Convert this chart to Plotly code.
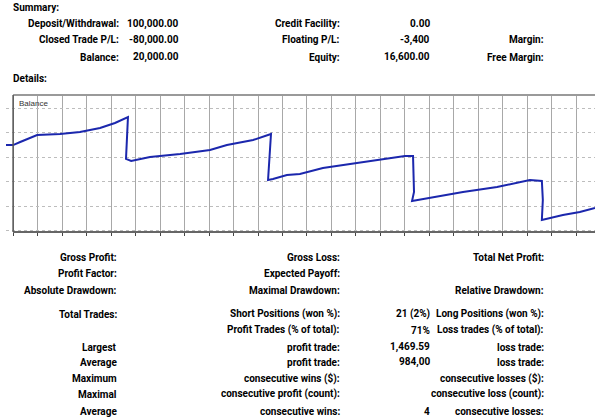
import plotly.graph_objects as go

W, H = 595, 417

# balance curve (x = grid steps, y = balance)
balance_x = [-0.29, 0, 0.29, 0.98, 1.92, 2.73, 3.55, 4.16, 4.69, 4.65, 4.61, 4.82,
             5.59, 6.82, 8.04, 8.73, 9.80, 10.53, 10.45, 10.41, 10.61, 11.18, 11.71,
             12.65, 14.04, 15.39, 16.00, 16.33, 16.37, 16.29, 17.02, 18.37, 19.76,
             20.82, 21.10, 21.59, 21.63, 21.59, 21.92, 22.45, 23.14, 23.76]
balance_y = [87200, 87200, 90300, 97400, 98500, 100500, 104600, 109700, 115800, 97400,
             73000, 70900, 75000, 78100, 82100, 87200, 92300, 98500, 71900, 51500,
             52600, 56600, 57700, 63800, 68900, 74000, 76000, 76000, 39300, 30100,
             33200, 39300, 44400, 50500, 51500, 50500, 31100, 10700, 12800, 15800,
             18900, 23000]

# summary block
summary_labels_1 = ["Deposit/Withdrawal:", "Closed Trade P/L:", "Balance:"]
summary_values_1 = ["100,000.00", "-80,000.00", "20,000.00"]
summary_labels_2 = ["Credit Facility:", "Floating P/L:", "Equity:"]
summary_values_2 = ["0.00", "-3,400", "16,600.00"]
summary_labels_3 = ["", "Margin:", "Free Margin:"]

# details block
details_labels_1 = ["Gross Profit:", "Profit Factor:", "Absolute Drawdown:", "Total Trades:", "",
                    "Largest", "Average", "Maximum", "Maximal", "Average"]
details_labels_2 = ["Gross Loss:", "Expected Payoff:", "Maximal Drawdown:",
                    "Short Positions (won %):", "Profit Trades (% of total):",
                    "profit trade:", "profit trade:", "consecutive wins ($):",
                    "consecutive profit (count):", "consecutive wins:"]
details_values_2 = ["", "", "", "21 (2%)", "71%", "1,469.59", "984,00", "", "", "4"]
details_labels_3 = ["Total Net Profit:", "", "Relative Drawdown:", "Long Positions (won %):",
                    "Loss trades (% of total):", "loss trade:", "loss trade:",
                    "consecutive losses ($):", "consecutive loss (count):", "consecutive losses:"]

FONT = "Roboto, Liberation Sans, Arial"


def px(x):
    return x / W


def py(y):
    return 1 - y / H


anns = []


def add_text(text, x, y, anchor="right", size=10, bold=True, color="#000000"):
    if not text:
        return
    anns.append(dict(text=text, x=px(x), y=py(y), xref="paper", yref="paper",
                     xanchor=anchor, yanchor="middle", showarrow=False, borderpad=0,
                     font=dict(family=FONT, size=size, color=color,
                               weight="bold" if bold else "normal")))


add_text("Summary:", 12, 8, anchor="left")
add_text("Details:", 12, 79, anchor="left")

summary_rows = [24, 40, 57]
for i, yy in enumerate(summary_rows):
    add_text(summary_labels_1[i], 120, yy)
    add_text(summary_values_1[i], 180, yy)
    add_text(summary_labels_2[i], 341, yy)
    add_text(summary_values_2[i], 431, yy)
    add_text(summary_labels_3[i], 545, yy)

details_rows = [257, 273, 290, 314, 330, 347, 362, 378, 394, 411]
for i, yy in enumerate(details_rows):
    add_text(details_labels_1[i], 118, yy)
    add_text(details_labels_2[i], 341, yy)
    add_text(details_values_2[i], 431, yy)
    add_text(details_labels_3[i], 545, yy)

# chart geometry
plot_left, plot_top, plot_bottom = 6, 95, 232
x_range = [-0.29, 23.76]
y_range = [-1530, 138270]

fig = go.Figure()
fig.add_trace(go.Scatter(x=balance_x, y=balance_y, mode="lines",
                         line=dict(color="#1b27ad", width=2), hoverinfo="skip"))

anns.append(dict(text="Balance", x=0.15, y=1, xref="x", yref="y domain",
                 xanchor="left", yanchor="top", yshift=-2, showarrow=False,
                 font=dict(family="Liberation Sans, Arial", size=8, color="#333333")))

shapes = [
    dict(type="line", xref="x", yref="y domain", x0=0, x1=x_range[1], y0=1, y1=1,
         line=dict(color="#9a9a9a", width=2)),
    dict(type="line", xref="x", yref="y domain", x0=0, x1=x_range[1], y0=0, y1=0,
         line=dict(color="#666666", width=2)),
    dict(type="line", xref="x", yref="y domain", x0=0, x1=0, y0=0, y1=1,
         line=dict(color="#555555", width=1.5)),
]

common = dict(showgrid=True, zeroline=False, showline=False, showticklabels=False,
              fixedrange=True)

fig.update_layout(
    width=W, height=H,
    margin=dict(l=0, r=0, t=0, b=0),
    paper_bgcolor="white", plot_bgcolor="white",
    showlegend=False,
    annotations=anns,
    shapes=shapes,
    # dashed vertical grid does not render here, so a solid grey one stands in
    xaxis=dict(domain=[px(plot_left), 1], range=x_range, tick0=0, dtick=1,
               gridcolor="#a8a8a8", gridwidth=1,
               ticks="outside", ticklen=3, tickcolor="#444444", **common),
    yaxis=dict(domain=[py(plot_bottom), py(plot_top)], range=y_range, tick0=0, dtick=25000,
               gridcolor="#bdbdbd", griddash="dot", gridwidth=1, ticks="", **common),
)

# page body has a default 8px margin; drop it so the figure sits at the window corner
fig.write_html("out.html", config={"displayModeBar": False},
               post_script="document.body.style.margin='0';")
